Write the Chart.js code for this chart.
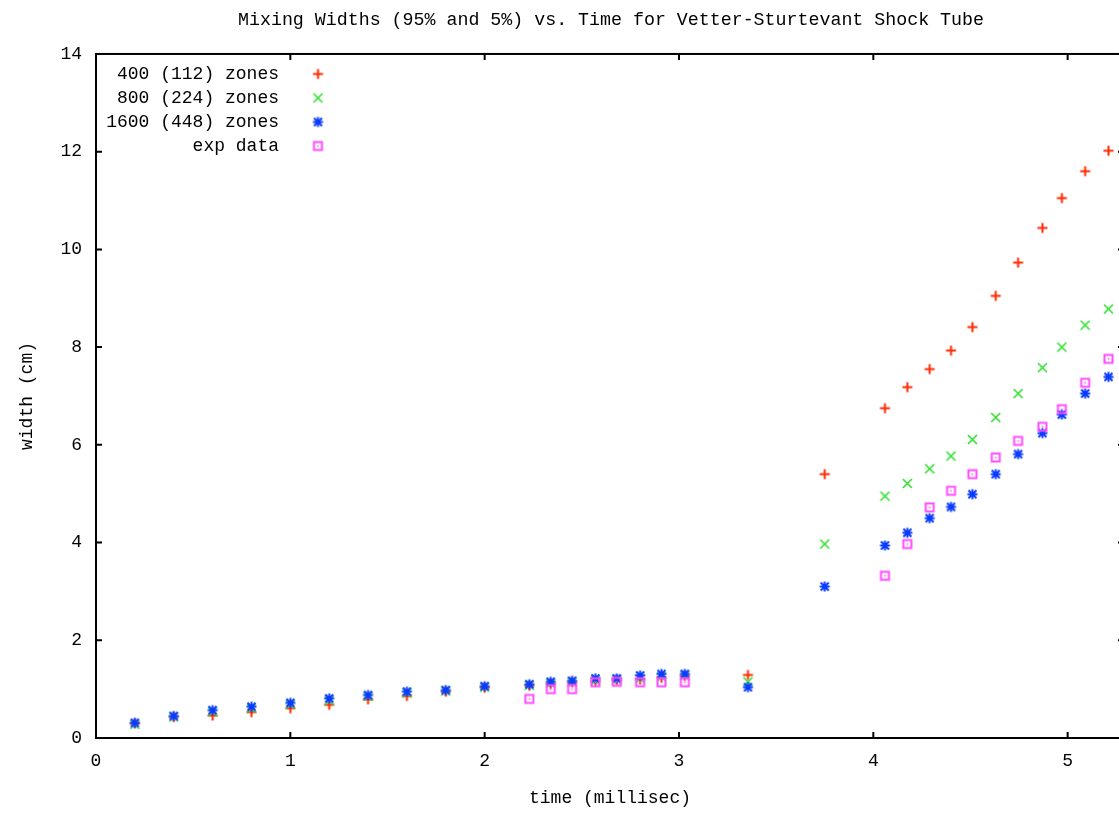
<!DOCTYPE html>
<html><head><meta charset="utf-8">
<script src="https://cdn.jsdelivr.net/npm/chart.js@4/dist/chart.umd.min.js"></script>
<style>
html,body{margin:0;padding:0;overflow:hidden;background:#fff;width:1119px;height:814px}
#wrap{position:absolute;left:0;top:0;width:1222px;height:814px}
</style>
</head><body><div id="wrap"><canvas id="c" width="1222" height="814"></canvas></div>
<script>
const chartTitle = "Mixing Widths (95% and 5%) vs. Time for Vetter-Sturtevant Shock Tube";
const xAxisTitle = "time (millisec)";
const yAxisTitle = "width (cm)";
const xTicks = [0, 1, 2, 3, 4, 5];
const yTicks = [0, 2, 4, 6, 8, 10, 12, 14];
const seriesLabels = ["400 (112) zones", "800 (224) zones", "1600 (448) zones", "exp data"];

const simTime = [0.2, 0.4, 0.6, 0.8, 1.0, 1.2, 1.4, 1.6, 1.8, 2.0, 2.23, 2.34, 2.45, 2.57, 2.68, 2.80, 2.91, 3.03, 3.355,
                 3.75, 4.06, 4.175, 4.29, 4.40, 4.51, 4.63, 4.745, 4.87, 4.97, 5.09, 5.21];
const zones400 = [0.30, 0.43, 0.46, 0.53, 0.61, 0.68, 0.79, 0.86, 0.95, 1.03, 1.07, 1.11, 1.14, 1.16, 1.18, 1.20, 1.24, 1.27, 1.29,
                  5.40, 6.75, 7.18, 7.55, 7.93, 8.41, 9.05, 9.73, 10.44, 11.05, 11.60, 12.02];
const zones800 = [0.28, 0.43, 0.54, 0.61, 0.69, 0.77, 0.85, 0.92, 0.96, 1.04, 1.08, 1.12, 1.15, 1.17, 1.19, 1.22, 1.25, 1.28, 1.15,
                  3.97, 4.95, 5.21, 5.51, 5.77, 6.11, 6.56, 7.05, 7.58, 8.00, 8.45, 8.78];
const zones1600 = [0.31, 0.45, 0.57, 0.64, 0.72, 0.81, 0.88, 0.95, 0.98, 1.06, 1.10, 1.15, 1.17, 1.22, 1.22, 1.28, 1.31, 1.31, 1.04,
                   3.10, 3.94, 4.20, 4.50, 4.73, 4.99, 5.40, 5.81, 6.24, 6.62, 7.05, 7.39];
const expTime = [2.23, 2.34, 2.45, 2.57, 2.68, 2.80, 2.91, 3.03,
                 4.06, 4.175, 4.29, 4.40, 4.51, 4.63, 4.745, 4.87, 4.97, 5.09, 5.21];
const expWidth = [0.80, 1.00, 1.00, 1.14, 1.15, 1.14, 1.14, 1.14,
                  3.32, 3.97, 4.72, 5.06, 5.40, 5.74, 6.08, 6.37, 6.73, 7.27, 7.76];

const RED = '#ff2a00', GREEN = '#2fe02f', BLUE = '#0a3cff', MAGENTA = '#ff4dff';
const FONT = "'Liberation Mono', 'DejaVu Sans Mono', monospace";

function mk(draw) {
  const c = document.createElement('canvas');
  c.width = 13; c.height = 13;
  const g = c.getContext('2d');
  g.translate(6.5, 6.5);
  draw(g);
  return c;
}
const plusImg = mk(g => { g.strokeStyle = RED; g.lineWidth = 2; g.beginPath();
  g.moveTo(-5, 0); g.lineTo(5, 0); g.moveTo(0, -5); g.lineTo(0, 5); g.stroke(); });
const crossImg = mk(g => { g.strokeStyle = GREEN; g.lineWidth = 1.6; g.beginPath();
  g.moveTo(-4.5, -4.5); g.lineTo(4.5, 4.5); g.moveTo(-4.5, 4.5); g.lineTo(4.5, -4.5); g.stroke(); });
const starImg = mk(g => { g.strokeStyle = BLUE; g.lineWidth = 2; g.beginPath();
  g.moveTo(-5, 0); g.lineTo(5, 0); g.moveTo(0, -5); g.lineTo(0, 5);
  g.moveTo(-4, -4); g.lineTo(4, 4); g.moveTo(-4, 4); g.lineTo(4, -4); g.stroke();
  g.fillStyle = BLUE; g.beginPath(); g.arc(0, 0, 2.5, 0, Math.PI * 2); g.fill(); });
const boxImg = mk(g => { g.strokeStyle = MAGENTA; g.lineWidth = 2; g.strokeRect(-4, -4, 8, 8);
  g.fillStyle = MAGENTA; g.fillRect(-0.75, -0.75, 1.5, 1.5); });
const markers = [plusImg, crossImg, starImg, boxImg];

const pts = (xs, ys) => xs.map((t, i) => ({ x: t, y: ys[i] }));

const framePlugin = {
  id: 'frame',
  beforeDatasetsDraw(chart) {
    const { ctx, chartArea: a, scales: { x, y } } = chart;
    ctx.save();
    ctx.strokeStyle = '#000';
    ctx.lineWidth = 2;
    ctx.strokeRect(a.left, a.top, a.right - a.left, a.bottom - a.top);
    const L = 6;
    ctx.beginPath();
    x.ticks.forEach(t => { const px = x.getPixelForValue(t.value);
      ctx.moveTo(px, a.bottom); ctx.lineTo(px, a.bottom - L);
      ctx.moveTo(px, a.top); ctx.lineTo(px, a.top + L); });
    y.ticks.forEach(t => { const py = y.getPixelForValue(t.value);
      ctx.moveTo(a.left, py); ctx.lineTo(a.left + L, py);
      ctx.moveTo(a.right, py); ctx.lineTo(a.right - L, py); });
    ctx.stroke();
    ctx.restore();
  }
};

const keyPlugin = {
  id: 'key',
  afterDraw(chart) {
    const { ctx, chartArea: a } = chart;
    ctx.save();
    ctx.font = '18px ' + FONT;
    ctx.fillStyle = '#000';
    ctx.textAlign = 'right';
    ctx.textBaseline = 'middle';
    chart.data.datasets.forEach((ds, i) => {
      const yy = a.top + 20 + i * 24;
      ctx.fillText(ds.label, a.left + 183, yy);
      const m = markers[i];
      ctx.drawImage(m, a.left + 222 - m.width / 2, yy - m.height / 2);
    });
    ctx.restore();
  }
};

new Chart(document.getElementById('c'), {
  type: 'scatter',
  data: {
    datasets: [
      { label: seriesLabels[0], data: pts(simTime, zones400), pointStyle: plusImg, order: 3 },
      { label: seriesLabels[1], data: pts(simTime, zones800), pointStyle: crossImg, order: 2 },
      { label: seriesLabels[2], data: pts(simTime, zones1600), pointStyle: starImg, order: 1 },
      { label: seriesLabels[3], data: pts(expTime, expWidth), pointStyle: boxImg, order: 0 }
    ]
  },
  options: {
    responsive: false,
    animation: false,
    devicePixelRatio: 1,
    layout: { padding: 0 },
    elements: { point: { radius: 5, hoverRadius: 5 } },
    plugins: {
      legend: { display: false },
      tooltip: { enabled: false },
      title: {
        display: true, text: chartTitle, color: '#000',
        font: { family: FONT, size: 18.3, weight: 'normal', lineHeight: 1.2 },
        padding: { top: 9, bottom: 23 }
      }
    },
    scales: {
      x: {
        type: 'linear', min: 0, max: 5.29,
        afterBuildTicks: s => { s.ticks = xTicks.map(v => ({ value: v })); },
        afterFit: s => { s.height = 76; },
        grid: { display: false, drawTicks: false },
        border: { display: false },
        ticks: { color: '#000', font: { family: FONT, size: 18 }, padding: 12, maxRotation: 0, autoSkip: false },
        title: { display: true, text: xAxisTitle, color: '#000',
          font: { family: FONT, size: 18, lineHeight: 1.2 }, padding: { top: 0, bottom: 5 } }
      },
      y: {
        type: 'linear', min: 0, max: 14,
        afterBuildTicks: s => { s.ticks = yTicks.map(v => ({ value: v })); },
        afterFit: s => { s.width = 96; },
        grid: { display: false, drawTicks: false },
        border: { display: false },
        ticks: { color: '#000', font: { family: FONT, size: 18 }, padding: 14 },
        title: { display: true, text: yAxisTitle, color: '#000',
          font: { family: FONT, size: 18, lineHeight: 1.2 }, padding: { top: 16, bottom: 0 } }
      },
      yRight: {
        type: 'linear', position: 'right', min: 0, max: 14,
        afterFit: s => { s.width = 98; },
        grid: { display: false, drawTicks: false },
        border: { display: false },
        ticks: { display: false }
      }
    }
  },
  plugins: [framePlugin, keyPlugin]
});
</script>
</body></html>
